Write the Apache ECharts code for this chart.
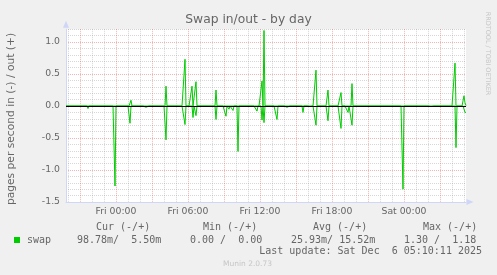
<!DOCTYPE html>
<html><head><meta charset="utf-8">
<script src="https://cdn.jsdelivr.net/npm/echarts@6/dist/echarts.min.js"></script>
<style>html,body{margin:0;padding:0;background:#f0f0f0;}#c{width:497px;height:275px;}</style>
</head><body><div id="c"></div>
<script>
// 5-minute sample slots from Thu 19:50 to Sat 05:10
const slotStartMinutes = 19 * 60 + 50;
const slotCount = 401;
const dayNames = ['Thu', 'Fri', 'Sat'];
const categories = [];
for (let i = 0; i < slotCount; i++) {
  const t = slotStartMinutes + 5 * i;
  const mm = t % 1440;
  categories.push(dayNames[Math.floor(t / 1440)] + ' ' + String(Math.floor(mm / 60)).padStart(2, '0') + ':' + String(mm % 60).padStart(2, '0'));
}

// swap in (drawn negative)
const inTimes = ['Thu 21:40','Thu 22:50','Thu 23:55','Fri 00:20','Fri 01:10','Fri 02:30','Fri 04:10','Fri 05:45','Fri 06:25','Fri 06:40',
  'Fri 07:35','Fri 07:50','Fri 08:20','Fri 09:10','Fri 09:25','Fri 09:45','Fri 10:10','Fri 10:20','Fri 11:45','Fri 12:10',
  'Fri 12:20','Fri 13:25','Fri 14:15','Fri 15:35','Fri 16:10','Fri 16:40','Fri 17:10','Fri 17:20','Fri 17:40','Fri 18:45',
  'Fri 19:20','Fri 19:40','Fri 20:20','Fri 23:55','Sat 00:05','Sat 00:50','Sat 02:15','Sat 03:35','Sat 03:50','Sat 04:20',
  'Sat 05:05','Sat 05:10'];
const inValues = [-0.04,-0.03,-1.25,-0.03,-0.27,-0.02,-0.53,-0.29,-0.18,-0.15,
  -0.02,-0.02,-0.21,-0.16,-0.05,-0.07,-0.71,-0.02,-0.08,-0.22,
  -0.26,-0.21,-0.02,-0.10,-0.01,-0.30,-0.03,-0.02,-0.23,-0.35,
  -0.10,-0.30,-0.02,-1.30,-0.02,-0.02,-0.01,-0.02,-0.02,-0.65,
  -0.10,-0.0988];

// swap out (drawn positive)
const outTimes = ['Fri 01:15','Fri 04:10','Fri 05:45','Fri 06:20','Fri 06:40','Fri 08:20','Fri 12:10','Fri 12:20','Fri 16:40','Fri 17:40',
  'Fri 18:45','Fri 19:40','Sat 04:15','Sat 05:00','Sat 05:05','Sat 05:10'];
const outValues = [0.09,0.31,0.73,0.31,0.38,0.25,0.39,1.18,0.56,0.25,
  0.21,0.35,0.67,0.16,0.05,0.0055];

const legendHeaders = ['Cur (-/+)', 'Min (-/+)', 'Avg (-/+)', 'Max (-/+)'];
const legendValues = ['98.78m/  5.50m', '0.00 /  0.00', '25.93m/ 15.52m', '1.30 /  1.18'];

const inMap = Object.fromEntries(inTimes.map((t, k) => [t, inValues[k]]));
const outMap = Object.fromEntries(outTimes.map((t, k) => [t, outValues[k]]));
const inData = categories.map(c => (c in inMap ? inMap[c] : 0));
const outData = categories.map(c => (c in outMap ? outMap[c] : 0));

const FONT = '#666666';
const AXIS = '#CFD6F8';
const GRID = 'rgba(150,150,150,0.38)';
const MGRID = 'rgba(222,79,79,0.42)';
const SANS = '"DejaVu Sans"';
const MONO = '"DejaVu Sans Mono"';

const headerX = [96, 203, 313, 423];
const valueX = [77, 190, 291, 404];
const graphic = [
  { type: 'text', x: 248.5, y: 19.5, style: { text: 'Swap in/out - by day', fontSize: 12.3, fontFamily: SANS, fill: FONT, align: 'center', verticalAlign: 'middle' } },
  { type: 'text', x: 11, y: 119, rotation: Math.PI / 2, style: { text: 'pages per second in (-) / out (+)', fontSize: 10.7, fontFamily: SANS, fill: FONT, align: 'center', verticalAlign: 'middle' } },
  { type: 'text', x: 488, y: 53.5, rotation: -Math.PI / 2, style: { text: 'RRDTOOL / TOBI OETIKER', fontSize: 6.5, fontFamily: SANS, fill: '#c6c6c6', align: 'center', verticalAlign: 'middle' } },
  { type: 'rect', shape: { x: 14, y: 237, width: 6, height: 6 }, style: { fill: '#00CC00' } },
  { type: 'text', x: 27, y: 240, style: { text: 'swap', fontSize: 10, fontFamily: MONO, fill: FONT, align: 'left', verticalAlign: 'middle' } },
  { type: 'text', x: 482, y: 251.7, style: { text: 'Last update: Sat Dec  6 05:10:11 2025', fontSize: 10, fontFamily: MONO, fill: FONT, align: 'right', verticalAlign: 'middle' } },
  { type: 'text', x: 247.5, y: 264, style: { text: 'Munin 2.0.73', fontSize: 7.5, fontFamily: SANS, fill: '#c6c6c6', align: 'center', verticalAlign: 'middle' } }
];
legendHeaders.forEach((h, k) => graphic.push({ type: 'text', x: headerX[k], y: 227.3, style: { text: h, fontSize: 10, fontFamily: MONO, fill: FONT, align: 'left', verticalAlign: 'middle' } }));
legendValues.forEach((v, k) => graphic.push({ type: 'text', x: valueX[k], y: 240, style: { text: v, fontSize: 10, fontFamily: MONO, fill: FONT, align: 'left', verticalAlign: 'middle' } }));

const chart = echarts.init(document.getElementById('c'), null, { renderer: 'canvas' });
chart.setOption({
  animation: false,
  backgroundColor: '#f0f0f0',
  grid: { left: 66, right: 31, top: 29.2, bottom: 73, show: true, backgroundColor: '#ffffff', borderWidth: 0 },
  xAxis: {
    type: 'category', data: categories, boundaryGap: false,
    axisLine: { onZero: false, lineStyle: { color: AXIS, width: 1 }, symbol: ['none', 'triangle'], symbolSize: [6, 7], symbolOffset: [0, 4] },
    axisTick: { show: false },
    axisLabel: { interval: (i) => i >= 50 && (i - 50) % 72 === 0, color: FONT, fontSize: 9.3, fontFamily: SANS, margin: 5 },
    splitLine: { show: true, interval: (i) => (i - 2) % 12 === 0, lineStyle: { color: [GRID, MGRID, GRID], type: [1, 1], width: 1 } }
  },
  yAxis: {
    type: 'value', min: -1.5, max: 1.2, interval: 0.1,
    axisLine: { show: true, lineStyle: { color: AXIS, width: 1 }, symbol: ['none', 'triangle'], symbolSize: [6, 7], symbolOffset: [0, 5] },
    axisTick: { show: false },
    axisLabel: {
      color: FONT, fontSize: 9.3, fontFamily: SANS, margin: 6,
      formatter: (v) => (Math.abs(v * 2 - Math.round(v * 2)) < 1e-6 ? v.toFixed(1) : '')
    },
    splitLine: { show: true, lineStyle: { color: [MGRID, GRID, GRID, GRID, GRID], type: [1, 1], width: 1 } }
  },
  series: [
    { name: 'swap in', type: 'line', data: inData, symbol: 'none', showSymbol: false, sampling: null,
      lineStyle: { color: '#00CC00', width: 1 }, itemStyle: { color: '#00CC00' } },
    { name: 'swap out', type: 'line', data: outData, symbol: 'none', showSymbol: false, sampling: null,
      lineStyle: { color: '#00CC00', width: 1 }, itemStyle: { color: '#00CC00' },
      markLine: { silent: true, symbol: ['none', 'none'], label: { show: false }, animation: false,
        lineStyle: { color: '#000000', width: 1, type: 'solid' }, data: [{ yAxis: 0 }] } }
  ],
  graphic: graphic
});
</script>
</body></html>
